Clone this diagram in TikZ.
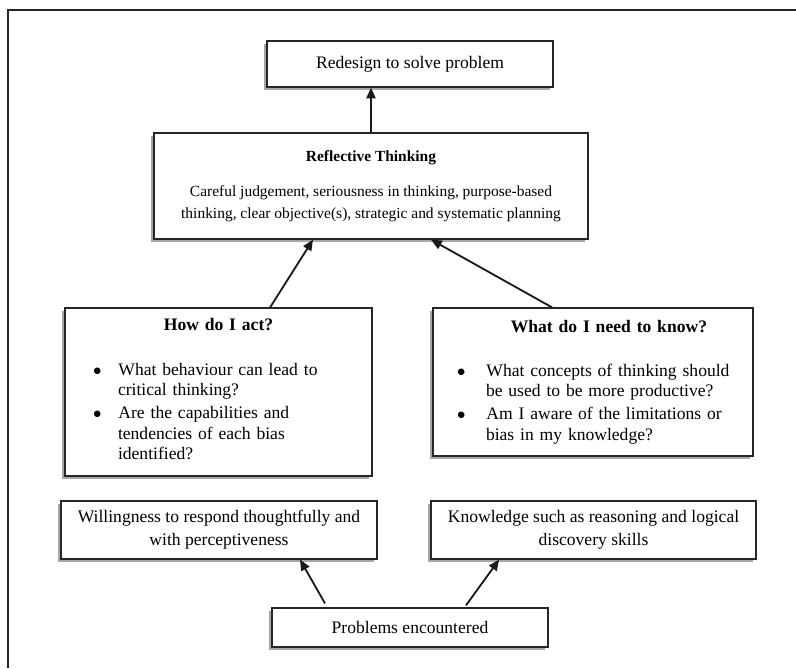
\documentclass[tikz,border=0pt]{standalone}
\usepackage{fontspec}
\setmainfont{Liberation Serif}
\usepackage{enumitem}
\usetikzlibrary{arrows.meta,shadows}

\setlist[itemize]{label={\large$\bullet$}, leftmargin=1.325cm, labelsep=0.42cm,
  labelwidth=0.2cm, align=left, itemsep=2pt, topsep=0pt, parsep=0pt, partopsep=0pt}
% extra room under the text of a box
\newcommand{\boxpad}[1]{\par\vspace*{#1}\hrule height 0pt depth 0pt width 0pt}

\begin{document}
\begin{tikzpicture}[
  boxbase/.style={draw=black!85, line width=0.9pt, fill=white, inner sep=0pt,
    drop shadow={shadow xshift=-0.08cm, shadow yshift=-0.08cm, fill=black!35, opacity=1}},
  box/.style={boxbase, align=center, font=\fontsize{12.5}{16.4}\selectfont},
  listbox/.style={boxbase, font=\fontsize{12.5}{14.6}\selectfont},
  arr/.style={line width=1.3pt, black!90, -{Triangle[length=2.7mm,width=2.3mm]}}
]
  \useasboundingbox (0,0) rectangle (19.9,16.7);
  % Outer frame (cut at the right and at the bottom)
  \draw[line width=0.9pt, black!85] (0.2,0) -- (0.2,16.45) -- (19.9,16.45);

  % Top: redesign and reflective thinking
  \node[box, minimum width=7.15cm, minimum height=1.15cm] (redesign) at (10.25,15.1)
    {Redesign to solve problem};
  \node[box, font=\fontsize{11}{15.4}\selectfont, minimum width=10.85cm, minimum height=2.65cm]
    (refl) at (9.275,12.05)
    {\textbf{Reflective Thinking}\\[10pt]
     Careful judgement, seriousness in thinking, purpose-based\\
     thinking, clear objective(s), strategic and systematic planning};

  % Middle: the two questions
  \node[listbox, text width=7.675cm, minimum height=4.2cm] (how) at (5.4625,6.9) {%
    {\centering\textbf{How do I act?}\par}\vspace{17.4pt}
    \raggedright
    \begin{itemize}
      \item What behaviour can lead to\newline critical thinking?
      \item Are the capabilities and\newline tendencies of each bias\newline identified?
    \end{itemize}\boxpad{4.2pt}};
  \node[listbox, text width=8cm, minimum height=3.7cm] (what) at (14.825,7.15) {%
    \vspace*{4.3pt}
    {\centering\hspace*{0.65cm}\textbf{What do I need to know?}\par}\vspace{12.4pt}
    \raggedright
    \begin{itemize}[labelsep=0.52cm]
      \item What concepts of thinking should\newline be used to be more productive?
      \item Am I aware of the limitations or\newline bias in my knowledge?
    \end{itemize}};

  % Bottom: where it starts
  \node[box, minimum width=7.9cm, minimum height=1.45cm] (willing) at (5.475,3.45)
    {Willingness to respond thoughtfully and\\ with perceptiveness};
  \node[box, minimum width=8.125cm, minimum height=1.45cm] (knowledge) at (14.8375,3.45)
    {Knowledge such as reasoning and logical\\ discovery skills};
  \node[box, minimum width=6.9cm, minimum height=0.975cm] (problems) at (10.25,1.0125)
    {Problems encountered};

  % Arrows
  \draw[arr] (refl.north) -- (refl.north |- redesign.south);
  \draw[arr] ([xshift=1.29cm]how.north) -- ([xshift=-1.45cm]refl.south);
  \draw[arr] ([xshift=-1.025cm]what.north) -- ([xshift=1.5cm]refl.south);
  \draw[arr] ([xshift=-2.125cm, yshift=0.1cm]problems.north) -- ([xshift=2.025cm]willing.south);
  \draw[arr] ([xshift=1.4cm, yshift=0.05cm]problems.north) -- ([xshift=-2.36cm]knowledge.south);
\end{tikzpicture}
\end{document}
